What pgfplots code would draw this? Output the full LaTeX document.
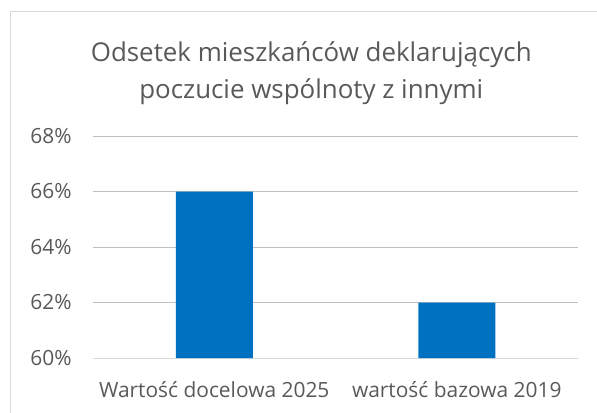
\documentclass[border=0pt]{standalone}
\usepackage{pgfplots}
\pgfplotsset{compat=1.18}
\usepackage{fontspec}
\setmainfont{Open Sans}
\definecolor{barblue}{HTML}{0070C0}
\definecolor{txt}{HTML}{595959}
\definecolor{grid}{HTML}{D9D9D9}
\begin{document}
\begin{tikzpicture}[x=1bp,y=1bp]
\useasboundingbox (-93,-54) rectangle (504,358);
\draw[grid, line width=1bp] (-82,-60) -- (-82,347) -- (510,347);
\begin{axis}[
  at={(0,0)}, anchor=origin,
  scale only axis, width=485bp, height=222bp,
  xmin=0, xmax=2, ymin=60, ymax=68,
  xtick={0.5,1.5}, xticklabels={Wartość docelowa 2025, wartość bazowa 2019},
  ytick={60,62,64,66,68},
  yticklabel={\pgfmathprintnumber{\tick}\%},
  /pgf/number format/assume math mode=true,
  axis line style={draw=none},
  major tick length=0pt,
  xtick style={draw=none}, ytick style={draw=none},
  xmajorgrids=false,
  ymajorgrids, grid style={grid, line width=1bp},
  tick label style={font=\fontsize{21}{24}\selectfont, text=txt},
  yticklabel style={xshift=-18bp},
  xticklabel style={yshift=-20bp},
  title={Odsetek mieszkańców deklarujących\\poczucie wspólnoty z innymi},
  title style={align=center, font=\fontsize{26}{37}\selectfont, text=txt, at={(0.45,1)}, yshift=22bp},
  clip=false,
]
\draw[grid, line width=1bp] (axis cs:0,60) -- (axis cs:2,60);
\addplot[ybar, bar width=77bp, fill=barblue, draw=none, bar shift=0pt] coordinates {(0.5,66) (1.5,62)};
\end{axis}
\end{tikzpicture}
\end{document}
